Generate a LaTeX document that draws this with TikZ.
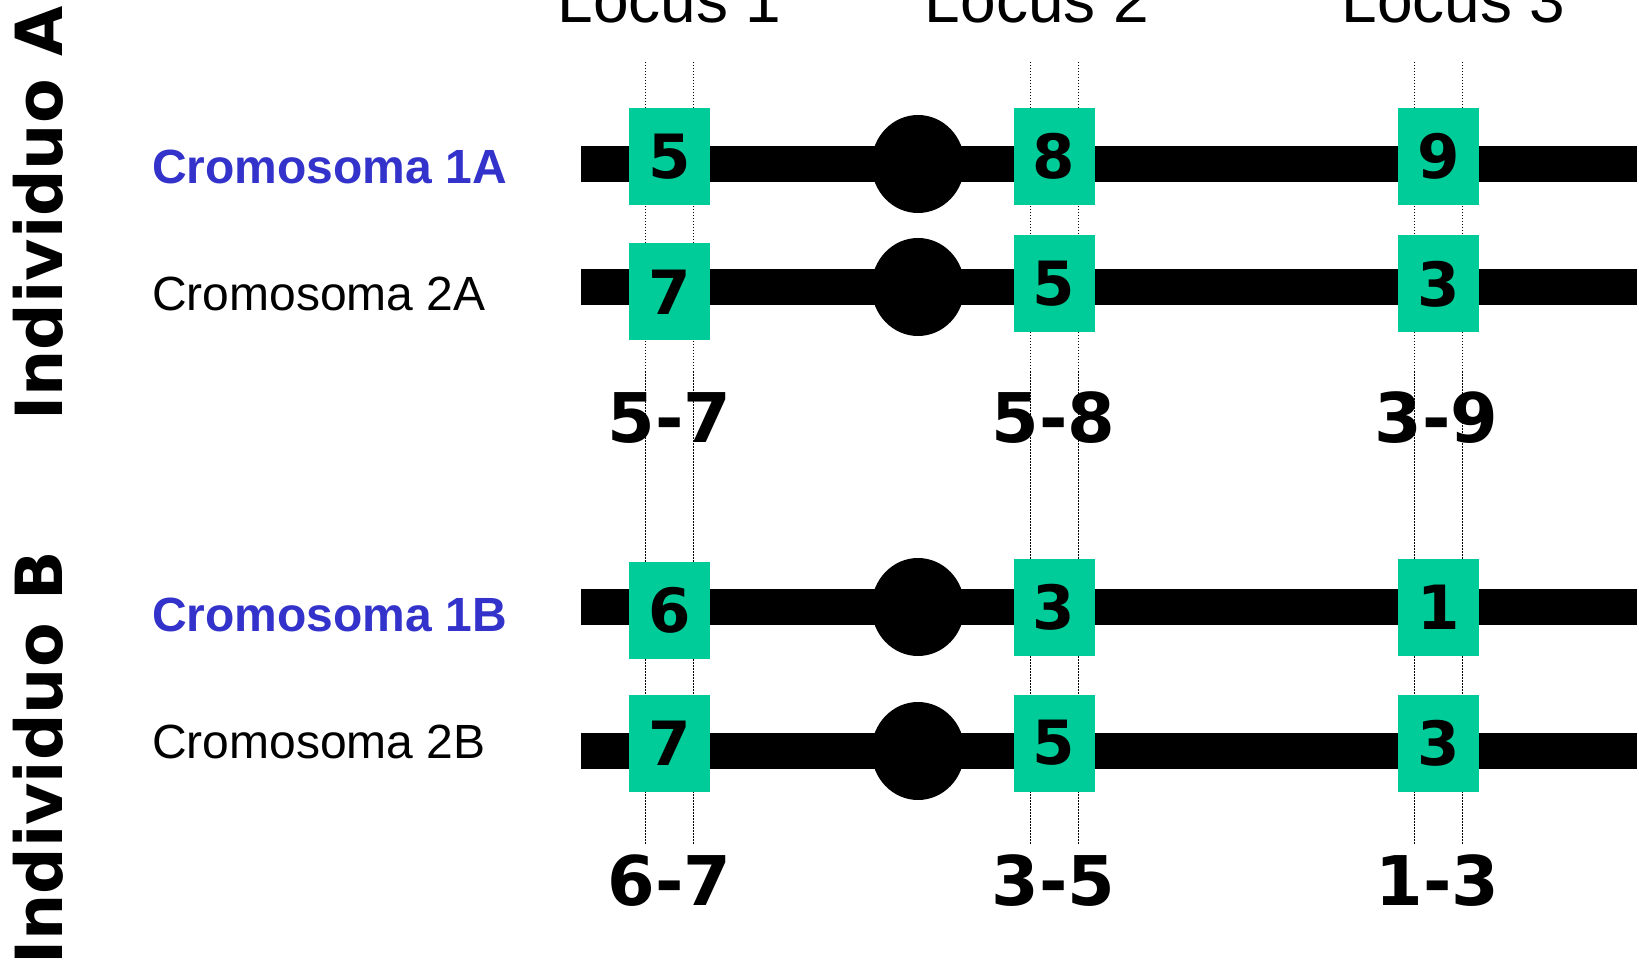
\documentclass[tikz,border=0pt]{standalone}
\usepackage{fontspec}
\setmainfont{Liberation Sans}
\newfontfamily\djv{DejaVu Sans}
\usetikzlibrary{shapes.geometric,calc}
\definecolor{allele}{HTML}{00CC99}
\definecolor{chromblue}{HTML}{3333CC}
\begin{document}
\begin{tikzpicture}[x=1pt,y=-1pt,
  locusline/.style={line width=1pt, dash pattern=on 1.5pt off 1.5pt, black},
  chrombar/.style={fill=black},
  centromere/.style={ellipse, fill=black, inner sep=0pt, minimum width=93pt, minimum height=98pt},
  allelebox/.style={fill=allele, inner sep=0pt, minimum width=81pt, minimum height=97pt,
    font=\djv\bfseries\fontsize{61}{61}\selectfont},
  genotype/.style={inner sep=0pt, anchor=base, font=\djv\bfseries\fontsize{68.5}{68.5}\selectfont},
  locuslabel/.style={inner sep=0pt, anchor=base, font=\fontsize{64}{64}\selectfont},
  cromlabel/.style={inner sep=0pt, anchor=base west, font=\fontsize{48}{48}\selectfont},
  cromfirst/.style={cromlabel, text=chromblue, font=\bfseries\fontsize{48}{48}\selectfont},
  individuo/.style={inner sep=0pt, anchor=base, rotate=90, font=\djv\bfseries\fontsize{65}{65}\selectfont}]
\useasboundingbox (0,0) rectangle (1639,965);

% dotted guides marking the two alleles of each locus
\foreach \gx [count=\i] in {645,693.5,1030,1078,1414,1462}{
  \coordinate (gtop\i) at (\gx,62);
  \coordinate (gbot\i) at (\gx,844);
  \draw[locusline] (gtop\i) -- (gbot\i);
}

% chromosome arms
\foreach \row/\cy in {1A/164,2A/287,1B/607,2B/751}{
  \coordinate (L\row) at (581,\cy);
  \coordinate (R\row) at (1637,\cy);
  \fill[chrombar] ($(L\row)+(0,-18)$) rectangle ($(R\row)+(0,18)$);
  \node[centromere] (cen\row) at (918,\cy) {};
}

% allele boxes
\node[allelebox] (a1A1) at (669.5,156.5) {5};
\node[allelebox] (a1A2) at (1054,156.5) {8};
\node[allelebox] (a1A3) at (1438.5,156.5) {9};
\node[allelebox] (a2A1) at (669.5,292) {7};
\node[allelebox] (a2A2) at (1054,284) {5};
\node[allelebox] (a2A3) at (1438.5,284) {3};
\node[allelebox] (a1B1) at (669.5,610) {6};
\node[allelebox] (a1B2) at (1054,607) {3};
\node[allelebox] (a1B3) at (1438.5,607) {1};
\node[allelebox] (a2B1) at (669.5,743) {7};
\node[allelebox] (a2B2) at (1054,743) {5};
\node[allelebox] (a2B3) at (1438.5,743) {3};

% locus headings
\node[locuslabel] (loc1) at (669.5,22.7) {Locus 1};
\node[locuslabel] (loc2) at (1037,22.7) {Locus 2};
\node[locuslabel] (loc3) at (1453.5,22.7) {Locus 3};

% chromosome names
\node[cromfirst] (n1A) at (152,183.3) {Cromosoma 1A};
\node[cromlabel] (n2A) at (152,310.5) {Cromosoma 2A};
\node[cromfirst] (n1B) at (152,631) {Cromosoma 1B};
\node[cromlabel] (n2B) at (152,758) {Cromosoma 2B};

% genotypes
\node[genotype] (gA1) at (669.5,442.7) {5-7};
\node[genotype] (gA2) at (1053.5,442.7) {5-8};
\node[genotype] (gA3) at (1436.5,442.7) {3-9};
\node[genotype] (gB1) at (669.5,905) {6-7};
\node[genotype] (gB2) at (1053.5,905) {3-5};
\node[genotype] (gB3) at (1437.5,905) {1-3};

% individuals
\node[individuo] (indA) at (62.7,213.5) {Individuo A};
\node[individuo] (indB) at (62.7,758) {Individuo B};
\end{tikzpicture}
\end{document}
